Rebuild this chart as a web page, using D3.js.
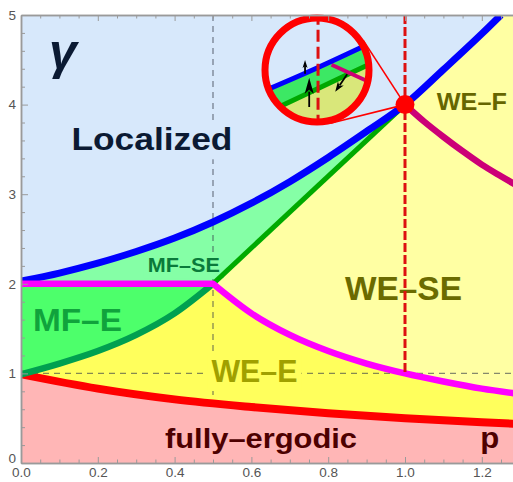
<!DOCTYPE html>
<html><head><meta charset="utf-8">
<script src="https://cdn.jsdelivr.net/npm/d3@7"></script>
<style>
body{margin:0;background:#fff}
svg{display:block}
text{font-family:"Liberation Sans",Arial,Helvetica,sans-serif}
</style>
</head><body>
<svg id="c" width="513" height="482"></svg>
<script>
// ---------- data ----------
const blueP   = [0, 0.1, 0.2, 0.3, 0.4, 0.5, 0.6, 0.7, 0.8, 0.9, 1.0, 1.1, 1.2, 1.25];
const blueG   = [2.03, 2.12, 2.23, 2.36, 2.51, 2.69, 2.9, 3.14, 3.41, 3.7, 4.0, 4.39, 4.79, 5.0];
const dkGreenP = [0, 0.1, 0.2, 0.3, 0.4, 0.5];
const dkGreenG = [0.99, 1.11, 1.25, 1.43, 1.67, 2.0];
const greenP  = [0.5, 0.75, 1.0];
const greenG  = [2.0, 3.0, 4.0];
const magFlatP = [0, 0.5];
const magFlatG = [2.0, 2.0];
const magP    = [0.5, 0.6, 0.7, 0.8, 0.9, 1.0, 1.1, 1.2, 1.29];
const magG    = [2.0, 1.67, 1.43, 1.25, 1.11, 1.0, 0.91, 0.83, 0.775];
const redP    = [0, 0.2, 0.4, 0.6, 0.8, 1.0, 1.2, 1.29];
const redG    = [0.99, 0.83, 0.71, 0.625, 0.555, 0.5, 0.455, 0.437];
const crimP   = [1.0, 1.05, 1.1, 1.15, 1.2, 1.25, 1.29];
const crimG   = [4.0, 3.81, 3.64, 3.48, 3.33, 3.2, 3.1];
const xMajor  = [0, 0.2, 0.4, 0.6, 0.8, 1.0, 1.2];
const yMajor  = [0, 1, 2, 3, 4, 5];
const pCrit   = 0.5;     // gray dashed vertical
const gCrit   = 1;       // gray dashed horizontal
const pDot    = 1.0, gDot = 4.0;  // red point / red dashed vertical
const regionNames = ["Localized", "MF\u2013SE", "MF\u2013E", "WE\u2013SE", "WE\u2013E", "WE\u2013F", "fully\u2013ergodic", "p"];
const labelP      = [0.341, 0.424, 0.147, 0.996, 0.608, 1.174, 0.625, 1.221];
const labelG      = [3.49, 2.13, 1.47, 1.82, 0.904, 3.94, 0.167, 0.167];

// ---------- label styling ----------
const labelStyle = {
  "Localized":          {size:32, len:161, color:"#0b1a33", bg:"#d7e8fb"},
  "MF\u2013SE":         {size:21, len:72,  color:"#0a7a3a", bg:"#85ffa6"},
  "MF\u2013E":          {size:32, len:89,  color:"#10a33c", bg:null},
  "WE\u2013SE":         {size:33, len:117, color:"#6b6b00", bg:null},
  "WE\u2013E":          {size:31, len:86,  color:"#a0a000", bg:"#ffff5c"},
  "WE\u2013F":          {size:24, len:70,  color:"#666600", bg:null},
  "fully\u2013ergodic": {size:28, len:192, color:"#4d0000", bg:null},
  "p":                  {size:30, len:19,  color:"#4d0000", bg:null}
};
// inset (magnified view, local units relative to circle radius)
const insetBlueU = [-1.2, 0, 1.2];
const insetBlueV = [-0.48, 0.04, 0.6];
const insetDkU   = [-1.2, 0, 1.2];
const insetDkV   = [-0.93, -0.365, 0.2];
const insetCrimU = [0.28, 1.2];
const insetCrimV = [0.1, -0.32];
const insetArrows = [
  {from:[-0.23,-0.07], to:[-0.23,0.19], head:8,  w:5},
  {from:[-0.15,-0.71], to:[-0.15,-0.15], head:16, w:9},
  {from:[0.58,-0.08],  to:[0.35,-0.42], head:10, w:7}
];

// ---------- layout ----------
const x = d3.scaleLinear().domain([0, 1.28125]).range([21, 513]);
const y = d3.scaleLinear().domain([0, 5]).range([463, 15]);
const svg = d3.select("#c");
const defs = svg.append("defs");
defs.append("clipPath").attr("id","plot").append("rect")
  .attr("x", x(0)).attr("y", y(5)).attr("width", x.range()[1]-x(0)).attr("height", y(0)-y(5));

const line = (P, G, curve) => d3.line().x(d=>x(d[0])).y(d=>y(d[1])).curve(curve||d3.curveLinear)(d3.zip(P,G));
const cont = s => s.replace(/^M/, "L");
const pEnd = 1.29;

const g = svg.append("g").attr("clip-path","url(#plot)");

// background: localized
g.append("rect").attr("x", x(0)).attr("y", y(5)).attr("width", x(pEnd)-x(0)).attr("height", y(0)-y(5)).attr("fill","#d7e8fb");
// MF-SE (below blue)
g.append("path").attr("fill","#85ffa6")
  .attr("d", d3.area().x(d=>x(d[0])).y0(y(0)).y1(d=>y(d[1])).curve(d3.curveMonotoneX)(d3.zip(blueP, blueG)));
// WE-SE / WE-F light yellow
const iB = blueP.indexOf(1.0);
g.append("path").attr("fill","#ffffa3")
  .attr("d", line(greenP, greenG) + cont(line(blueP.slice(iB), blueG.slice(iB), d3.curveMonotoneX)) +
    `L${x(pEnd)},${y(5)}L${x(pEnd)},${y(0)}L${x(greenP[0])},${y(0)}Z`);
// MF-E
g.append("path").attr("fill","#4dff6b")
  .attr("d", line(magFlatP, magFlatG) + `L${x(magFlatP[1])},${y(0)}L${x(magFlatP[0])},${y(0)}Z`);
// WE-E bright yellow
g.append("path").attr("fill","#ffff5c")
  .attr("d", line(dkGreenP, dkGreenG, d3.curveMonotoneX) + cont(line(magP, magG, d3.curveMonotoneX)) +
    `L${x(pEnd)},${y(0)}L${x(0)},${y(0)}Z`);
// fully ergodic pink
g.append("path").attr("fill","#ffb6b6")
  .attr("d", d3.area().x(d=>x(d[0])).y0(y(0)).y1(d=>y(d[1])).curve(d3.curveMonotoneX)(d3.zip(redP, redG)));

// gray dashed guides
g.append("line").attr("x1", x(pCrit)).attr("x2", x(pCrit)).attr("y1", y(5)).attr("y2", y(1/(1+pCrit)))
  .attr("stroke","#333a48").attr("stroke-opacity",0.6).attr("stroke-width",1.3).attr("stroke-dasharray","6,5");
g.append("line").attr("x1", x(0)).attr("x2", x(pEnd)).attr("y1", y(gCrit)).attr("y2", y(gCrit))
  .attr("stroke","#333a48").attr("stroke-opacity",0.6).attr("stroke-width",1.1).attr("stroke-dasharray","6,5");

// region labels
regionNames.forEach((name, i) => {
  const s = labelStyle[name];
  const t = g.append("text").attr("x", x(labelP[i])).attr("y", y(labelG[i])).attr("text-anchor","middle")
    .attr("font-size", s.size).attr("font-weight","bold").attr("fill", s.color)
    .attr("textLength", s.len).attr("lengthAdjust","spacingAndGlyphs").text(name);
  if (s.bg) {
    const b = t.node().getBBox();
    g.insert("rect", () => t.node()).attr("x", b.x-4).attr("y", b.y+1).attr("width", b.width+8).attr("height", b.height+1).attr("fill", s.bg);
  }
});
// gamma axis symbol
g.append("text").attr("x", 49).attr("y", 69).attr("font-size", 50).attr("font-weight","bold")
  .attr("font-style","italic").attr("fill","#0b1a33").text("\u03b3");

// curves
const stroke = (d, color, w) => g.append("path").attr("d", d).attr("fill","none").attr("stroke",color)
  .attr("stroke-width", w).attr("stroke-linejoin","round");
stroke(line(redP, redG, d3.curveMonotoneX), "#ff0000", 8);
stroke(line(dkGreenP, dkGreenG, d3.curveMonotoneX), "#00a050", 6.5);
stroke(line(greenP, greenG), "#00aa00", 5);
stroke(line(crimP, crimG, d3.curveMonotoneX), "#cc0077", 6.5);
stroke(line(blueP, blueG, d3.curveMonotoneX), "#0000ff", 7);
stroke(line(magFlatP, magFlatG) + cont(line(magP, magG, d3.curveMonotoneX)), "#ff00ff", 6.5);

// red dashed vertical at p = 1
g.append("line").attr("x1", x(pDot)).attr("x2", x(pDot)).attr("y1", y(5)).attr("y2", y(1/pDot))
  .attr("stroke","#dd1010").attr("stroke-width",3).attr("stroke-dasharray","9,3");

// inset
const cx = 317, cy = 70, R = 52;
const iu = d3.scaleLinear().domain([-1,1]).range([cx-R, cx+R]);
const iv = d3.scaleLinear().domain([-1,1]).range([cy+R, cy-R]);
const D = [x(pDot), y(gDot)];
const dx = D[0]-cx, dy = D[1]-cy, dist = Math.hypot(dx,dy), Ro = R+3;
const th = Math.atan2(dy,dx), al = Math.acos(Ro/dist);
[th-al, th+al].forEach(a => {
  svg.append("line").attr("x1", cx+Ro*Math.cos(a)).attr("y1", cy+Ro*Math.sin(a))
    .attr("x2", D[0]).attr("y2", D[1]).attr("stroke","#ff0000").attr("stroke-width",1.6);
});
svg.append("circle").attr("cx", D[0]).attr("cy", D[1]).attr("r", 9.5).attr("fill","#ff0000");

defs.append("clipPath").attr("id","inset").append("circle").attr("cx",cx).attr("cy",cy).attr("r",R);
const ig = svg.append("g").attr("clip-path","url(#inset)");
const iline = (U,V,curve) => d3.line().x(d=>iu(d[0])).y(d=>iv(d[1])).curve(curve||d3.curveLinear)(d3.zip(U,V));
ig.append("circle").attr("cx",cx).attr("cy",cy).attr("r",R).attr("fill","#d7e8fb");
ig.append("path").attr("fill","#d9e77a")
  .attr("d", iline(insetDkU, insetDkV, d3.curveMonotoneX) + `L${iu(1.2)},${iv(-1.2)}L${iu(-1.2)},${iv(-1.2)}Z`);
ig.append("path").attr("fill","#3ce864")
  .attr("d", iline(insetBlueU, insetBlueV, d3.curveMonotoneX) +
    cont(iline(insetDkU.slice().reverse(), insetDkV.slice().reverse())) + "Z");
ig.append("path").attr("d", iline(insetDkU, insetDkV, d3.curveMonotoneX)).attr("fill","none").attr("stroke","#00a800").attr("stroke-width",5);
ig.append("path").attr("d", iline(insetCrimU, insetCrimV)).attr("fill","none").attr("stroke","#cc0077").attr("stroke-width",4);
ig.append("path").attr("d", iline(insetBlueU, insetBlueV, d3.curveMonotoneX)).attr("fill","none").attr("stroke","#0000ff").attr("stroke-width",5);
ig.append("line").attr("x1", iu(0.02)).attr("x2", iu(0.02)).attr("y1", iv(1.1)).attr("y2", iv(-1.1))
  .attr("stroke","#dd1010").attr("stroke-width",3).attr("stroke-dasharray","12,5");
insetArrows.forEach(a => {
  const x0=iu(a.from[0]), y0=iv(a.from[1]), x1=iu(a.to[0]), y1=iv(a.to[1]);
  const ang = Math.atan2(y1-y0, x1-x0), ux=Math.cos(ang), uy=Math.sin(ang);
  const bx = x1-ux*a.head, by = y1-uy*a.head;
  ig.append("line").attr("x1",x0).attr("y1",y0).attr("x2",bx+ux*2).attr("y2",by+uy*2).attr("stroke","#000").attr("stroke-width",1.8);
  ig.append("path").attr("fill","#000").attr("d",
    `M${x1},${y1}L${bx-uy*a.w/2},${by+ux*a.w/2}L${bx+ux*a.head*0.25},${by+uy*a.head*0.25}L${bx+uy*a.w/2},${by-ux*a.w/2}Z`);
});
svg.append("circle").attr("cx",cx).attr("cy",cy).attr("r",R).attr("fill","none").attr("stroke","#ff0000").attr("stroke-width",7);

// ---------- axes ----------
const axisColor = "#9a9a9a", labColor = "#555";
function styleAxis(sel){ sel.selectAll("path,line").attr("stroke", axisColor);
  sel.selectAll("text").attr("fill", labColor).attr("font-size", 13.5).style("font-family","'Liberation Sans',Arial,sans-serif"); }
const xMinor = d3.range(0, 1.2801, 0.05).filter(v => !xMajor.some(m => Math.abs(m-v)<1e-6));
const yMinor = d3.range(0, 5.001, 0.2).filter(v => !yMajor.some(m => Math.abs(m-v)<1e-6));
svg.append("g").attr("transform",`translate(0,${y(0)})`)
  .call(d3.axisBottom(x).tickValues(xMajor).tickFormat(d3.format(".1f")).tickSizeInner(-6).tickSizeOuter(0).tickPadding(4)).call(styleAxis);
svg.append("g").attr("transform",`translate(0,${y(0)})`)
  .call(d3.axisBottom(x).tickValues(xMinor).tickFormat("").tickSizeInner(-3.5).tickSizeOuter(0)).call(styleAxis);
svg.append("g").attr("transform",`translate(0,${y(5)})`)
  .call(d3.axisTop(x).tickValues(xMajor).tickFormat("").tickSizeInner(-6).tickSizeOuter(0)).call(styleAxis);
svg.append("g").attr("transform",`translate(0,${y(5)})`)
  .call(d3.axisTop(x).tickValues(xMinor).tickFormat("").tickSizeInner(-3.5).tickSizeOuter(0)).call(styleAxis);
const yAx = svg.append("g").attr("transform",`translate(${x(0)},0)`)
  .call(d3.axisLeft(y).tickValues(yMajor).tickFormat(d3.format("d")).tickSizeInner(-7).tickSizeOuter(0).tickPadding(5)).call(styleAxis);
yAx.selectAll(".tick").filter(d => d === 0).select("text").attr("dy", "-0.05em");
svg.append("g").attr("transform",`translate(${x(0)},0)`)
  .call(d3.axisLeft(y).tickValues(yMinor).tickFormat("").tickSizeInner(-4).tickSizeOuter(0)).call(styleAxis);
svg.selectAll(".domain").attr("stroke", axisColor).attr("stroke-width", 1.5);
</script>
</body></html>
